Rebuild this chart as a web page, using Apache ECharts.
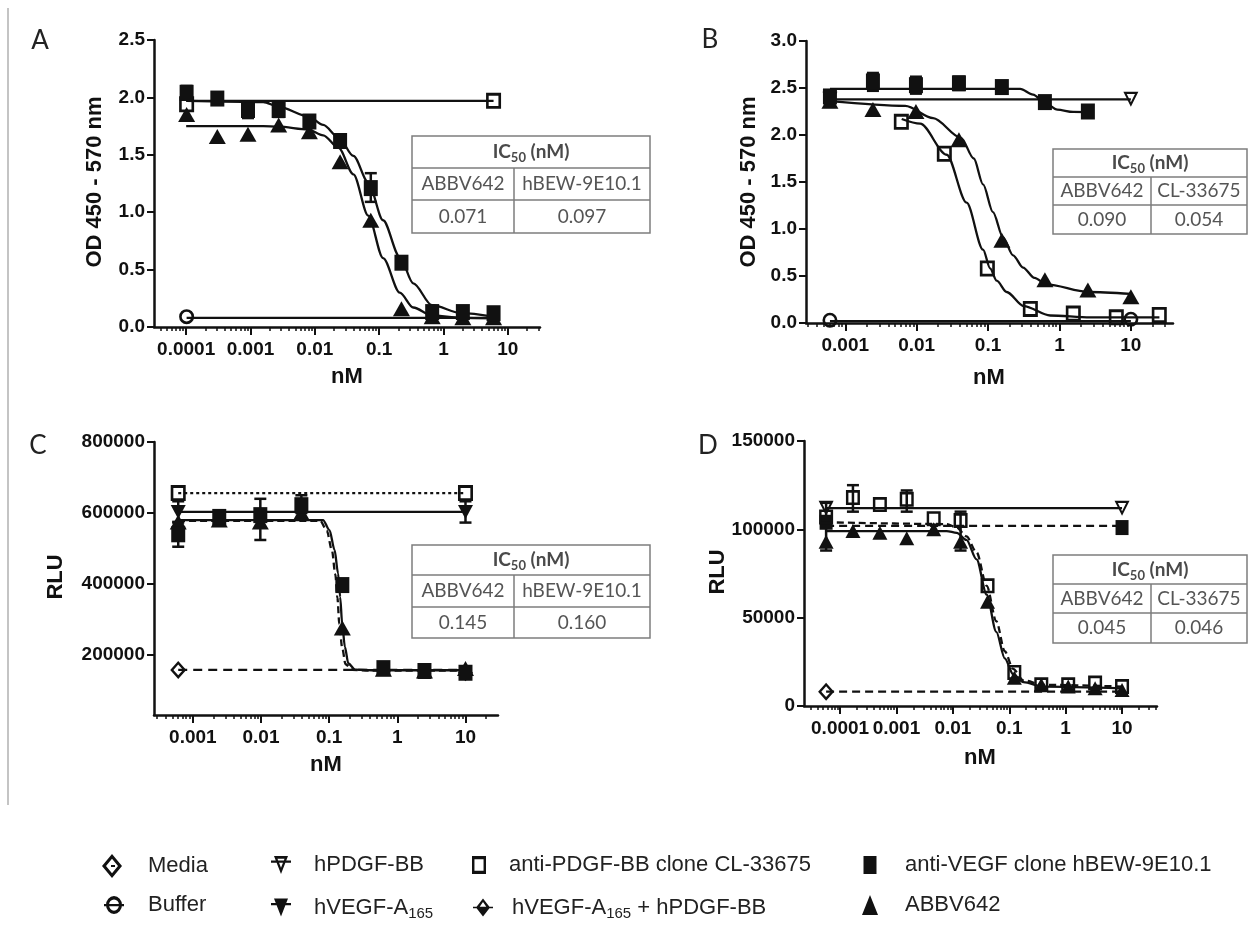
<!DOCTYPE html>
<html><head><meta charset="utf-8">
<script src="https://cdn.jsdelivr.net/npm/echarts@6/dist/echarts.min.js"></script>
<style>html,body{margin:0;padding:0;background:#fff}#c{width:1249px;height:939px}</style>
</head><body><div id="c"></div>
<script>
// ================= DATA (concentrations in nM) =================
// Panel A : OD 450-570 nm, 3-fold dilutions
const concA      = [0.0001016, 0.000305, 0.000914, 0.00274, 0.00823, 0.0247, 0.0741, 0.222, 0.667, 2, 6];
const A_hBEW     = [2.04, 1.99, 1.89, 1.89, 1.79, 1.62, 1.21, 0.56, 0.13, 0.13, 0.12];
const A_ABBV     = [1.85, 1.66, 1.68, 1.76, 1.70, 1.44, 0.93, 0.16, 0.09, 0.08, 0.08];
const A_CL_x     = [0.0001016, 6];
const A_CL       = [1.94, 1.97];
const A_buf_x    = [0.0001016];
const A_buf      = [0.09];
const A_fit_x    = [0.0001, 0.00158, 0.00269, 0.00794, 0.0135, 0.0234, 0.0398, 0.0676, 0.115, 0.209, 0.339, 0.661, 1.91, 5.89];
const A_fit_hBEW = [1.97, 1.96, 1.92, 1.835, 1.76, 1.65, 1.49, 1.26, 0.93, 0.61, 0.38, 0.19, 0.12, 0.09];
const A_fit_ABBV = [1.75, 1.75, 1.745, 1.72, 1.67, 1.56, 1.33, 0.97, 0.60, 0.30, 0.17, 0.10, 0.08, 0.075];
const A_line_x   = [0.0001016, 6];
const A_line_CL  = [1.97, 1.97];
const A_line_buf = [0.08, 0.08];
const A_err      = [[0.0741, 1.09, 1.34], [0.00274, 1.83, 1.95], [0.000914, 1.82, 1.96], [0.0001016, 1.98, 2.10]];

// Panel B : OD 450-570 nm, 4-fold dilutions
const concB      = [0.00061, 0.00244, 0.00977, 0.0391, 0.156, 0.625, 2.5, 10];
const concB2     = [0.0061, 0.0244, 0.0977, 0.391, 1.5625, 6.25, 25];
const B_hBEW     = [2.41, 2.57, 2.53, 2.55, 2.51, 2.35, 2.25];
const B_ABBV     = [2.36, 2.27, 2.25, 1.95, 0.88, 0.46, 0.35, 0.28];
const B_CL       = [2.14, 1.80, 0.58, 0.15, 0.10, 0.06, 0.085];
const B_end_x    = [0.00061, 10];
const B_PDGF     = [2.38, 2.38];
const B_buf      = [0.03, 0.04];
const B_fit_hBEW_x = [0.00061, 0.282, 0.427, 0.631, 0.933, 1.55, 2.95];
const B_fit_hBEW   = [2.49, 2.49, 2.43, 2.34, 2.27, 2.245, 2.24];
const B_fit_ABBV_x = [0.00061, 0.00692, 0.0170, 0.0417, 0.0631, 0.0851, 0.117, 0.162, 0.224, 0.309, 0.447, 0.661, 2.51, 10];
const B_fit_ABBV   = [2.36, 2.31, 2.18, 1.97, 1.75, 1.475, 1.18, 0.91, 0.72, 0.59, 0.48, 0.41, 0.33, 0.31];
const B_fit_CL_x   = [0.00617, 0.0112, 0.0263, 0.0501, 0.0851, 0.107, 0.132, 0.182, 0.316, 0.741, 2.69, 25.1];
const B_fit_CL     = [2.17, 2.12, 1.79, 1.28, 0.78, 0.58, 0.45, 0.33, 0.18, 0.08, 0.06, 0.06];
const B_line_PDGF  = [2.38, 2.38];
const B_line_buf   = [0.02, 0.02];
const B_err        = [[0.00244, 2.47, 2.66], [0.00977, 2.44, 2.62], [0.0391, 2.48, 2.62], [0.00061, 2.30, 2.45]];

// Panel C : RLU, 4-fold dilutions
const concC      = [0.00061, 0.00244, 0.00977, 0.0391, 0.156, 0.625, 2.5, 10];
const C_hBEW     = [540000, 589000, 594000, 622000, 397000, 163000, 155000, 150000];
const C_ABBV     = [575000, 580000, 575000, 600000, 276000, 160000, 155000, 162000];
const C_end_x    = [0.00061, 10];
const C_CL       = [656000, 656000];
const C_VEGF     = [603000, 603000];
const C_media_x  = [0.00061];
const C_media    = [158000];
const C_both_x   = [10];
const C_both     = [150000];
const C_fit_hBEW_x = [0.00061, 0.0813, 0.101, 0.120, 0.135, 0.145, 0.155, 0.170, 0.191, 0.240, 0.417, 10];
const C_fit_hBEW   = [580000, 580000, 552000, 496000, 430000, 364000, 289000, 223000, 176000, 159000, 157000, 157000];
const C_fit_ABBV_x = [0.00061, 0.0741, 0.0923, 0.110, 0.123, 0.132, 0.141, 0.155, 0.174, 0.219, 0.380, 10];
const C_fit_ABBV   = [578000, 578000, 550000, 494000, 428000, 362000, 287000, 221000, 174000, 158000, 156000, 156000];
const C_line_media = [158000, 158000];
const C_err        = [[0.00061, 573000, 633000], [10, 573000, 633000], [0.00061, 505000, 575000], [0.00977, 524000, 640000], [0.0391, 600000, 650000]];

// Panel D : RLU, 3-fold dilutions
const concD      = [0.0000565, 0.000169, 0.000508, 0.00152, 0.00457, 0.0137, 0.0412, 0.123, 0.370, 1.11, 3.33, 10];
const D_CL       = [107000, 118000, 114000, 117000, 106000, 105000, 68000, 19000, 12000, 12000, 13000, 11000];
const D_ABBV     = [93000, 99000, 98000, 95000, 100000, 93000, 59000, 16000, 12000, 11000, 10000, 9000];
const D_end_x    = [0.0000565, 10];
const D_PDGF     = [112000, 112000];
const D_hBEW     = [104000, 101000];
const D_media_x  = [0.0000565];
const D_media    = [8100];
const D_fit_x    = [0.0000562, 0.00776, 0.0117, 0.0174, 0.0263, 0.0398, 0.0589, 0.0832, 0.117, 0.178, 0.398, 10];
const D_fit_ABBV = [99000, 99000, 98000, 94000, 83000, 63000, 42000, 27000, 18000, 13500, 11000, 10000];
const D_fit_CL   = [104000, 103000, 101000, 96000, 87000, 68000, 48000, 31000, 21000, 14500, 12000, 11000];
const D_line_hBEW  = [102000, 102000];
const D_line_media = [8100, 8100];
const D_err      = [[0.0000565, 88000, 115000], [0.000169, 110000, 125000], [0.00152, 110000, 122000], [0.0137, 88000, 110000]];

// Tick labels
const xTickA = ['0.0001', '0.001', '0.01', '0.1', '1', '10'];
const xTickB = ['0.001', '0.01', '0.1', '1', '10'];
const xTickC = ['0.001', '0.01', '0.1', '1', '10'];
const xTickD = ['0.0001', '0.001', '0.01', '0.1', '1', '10'];
const yTickA = ['0.0', '0.5', '1.0', '1.5', '2.0', '2.5'];
const yTickB = ['0.0', '0.5', '1.0', '1.5', '2.0', '2.5', '3.0'];
const yTickC = ['200000', '400000', '600000', '800000'];
const yTickD = ['0', '50000', '100000', '150000'];

// Table contents
const tblHead = ['IC', '50', ' (nM)'];
const tblA = [['ABBV642', 'hBEW-9E10.1'], ['0.071', '0.097']];
const tblB = [['ABBV642', 'CL-33675'], ['0.090', '0.054']];
const tblC = [['ABBV642', 'hBEW-9E10.1'], ['0.145', '0.160']];
const tblD = [['ABBV642', 'CL-33675'], ['0.045', '0.046']];

const N = {media:'Media', buffer:'Buffer', pdgf:'hPDGF-BB', vegf:'hVEGF-A165',
  cl:'anti-PDGF-BB clone CL-33675', both:'hVEGF-A165 + hPDGF-BB', hbew:'anti-VEGF clone hBEW-9E10.1', abbv:'ABBV642'};

// ================= STYLE / LAYOUT =================
const BLK = '#111';
const FB = "'Liberation Sans',Arial,sans-serif";
const FT = "Lato,'Open Sans',sans-serif";
const P = {
  openSq:  'path://M0,0H20V20H0Z M3.5,3.5V16.5H16.5V3.5Z',
  fillSq:  'path://M0,0H20V20H0Z',
  openDia: 'path://M10,0L20,10L10,20L0,10Z M10,4L4,10L10,16L16,10Z',
  openCirc:'path://M10,0A10,10,0,1,1,10,20A10,10,0,1,1,10,0Z M10,3.5A6.5,6.5,0,1,0,10,16.5A6.5,6.5,0,1,0,10,3.5Z',
  invOpen: 'path://M0,0H20L10,20Z M4.5,3L10,14L15.5,3Z',
  invFill: 'path://M0,0H20L10,20Z',
  halfDia: 'path://M10,0L20,10L10,20L0,10Z M10,4L4,10L16,10Z',
  tri:     'path://M10,0L20,20H0Z',
  L_media: 'path://M10,0L20,10L10,20L0,10Z M10,4L4,10L10,16L16,10Z M9,9.2H13V10.8H9Z',
  L_buf:   'path://M10,2A8,8,0,1,1,10,18A8,8,0,1,1,10,2Z M10,5A5,5,0,1,0,10,15A5,5,0,1,0,10,5Z M0,9H20V11H0Z',
  L_pdgf:  'path://M3,0H17L10,20Z M6.5,3L10,13L13.5,3Z M0,5H20V7.5H0Z',
  L_vegf:  'path://M3,0H17L10,20Z M0,5H20V7.5H0Z',
  L_both:  'path://M10,0L17,10L10,20L3,10Z M10,4L6.2,10L13.8,10Z M0,9.2H20V10.8H0Z'
};

const grids = [
  {left:154, top:40,  width:386, height:287},
  {left:806, top:41,  width:367, height:282},
  {left:154, top:442, width:344, height:273},
  {left:804, top:441, width:353, height:265}
];
const xRange = [[-4.5, 1.5], [-3.55, 1.59], [-3.57, 1.477], [-4.64, 1.62]];
const yRange = [[0, 2.5], [0, 3], [31000, 800000], [0, 150000]];
const xTicks = [xTickA, xTickB, xTickC, xTickD];
const yTicks = [yTickA, yTickB, yTickC, yTickD];

const LG = v => Math.log10(v);
const pts = (xs, ys) => xs.map((x, i) => [LG(x), ys[i]]);
const labelFont = {fontFamily:FB, fontWeight:'bold', fontSize:19, color:BLK};

const xAxes = [], yAxes = [];
grids.forEach((g, i) => {
  const [mn, mx] = xRange[i];
  const labs = xTicks[i];
  const vals = labs.map(s => Math.round(Math.log10(parseFloat(s))));
  const minor = [];
  for (let d = Math.floor(mn); d <= Math.ceil(mx); d++)
    for (let k = 2; k <= 9; k++) { const v = d + Math.log10(k); if (v > mn && v <= mx + 1e-9) minor.push(v); }
  xAxes.push({type:'value', gridIndex:i, position:'bottom', min:mn, max:mx,
    axisLine:{show:true, onZero:false, lineStyle:{color:BLK, width:2.5}},
    axisTick:{show:true, customValues:vals, length:8, lineStyle:{color:BLK, width:2}},
    axisLabel:{show:true, customValues:vals, showMinLabel:true, showMaxLabel:true, hideOverlap:false,
      formatter: v => { const k = vals.indexOf(Math.round(v)); return k < 0 ? '' : labs[k]; },
      margin:13, ...labelFont},
    splitLine:{show:false}});
  xAxes.push({type:'value', gridIndex:i, position:'bottom', min:mn, max:mx,
    axisLine:{show:false, onZero:false},
    axisTick:{show:true, customValues:minor, length:4, lineStyle:{color:BLK, width:1.5}},
    axisLabel:{show:false}, splitLine:{show:false}});
  const ylabs = yTicks[i];
  const yvals = ylabs.map(s => parseFloat(s));
  yAxes.push({type:'value', gridIndex:i, min:yRange[i][0], max:yRange[i][1],
    axisLine:{show:true, onZero:false, lineStyle:{color:BLK, width:2.5}},
    axisTick:{show:true, customValues:yvals, length:7, lineStyle:{color:BLK, width:2}},
    axisLabel:{show:true, customValues:yvals, showMinLabel:true, showMaxLabel:true, hideOverlap:false,
      formatter: v => { const k = yvals.findIndex(t => Math.abs(t - v) < 1e-6); return k < 0 ? '' : ylabs[k]; },
      margin:9, ...labelFont},
    splitLine:{show:false}});
});

const series = [];
function marks(i, name, xs, ys, symbol, size) {
  series.push({type:'scatter', name, xAxisIndex:2*i, yAxisIndex:i, data:pts(xs, ys),
    symbol, symbolSize:size, itemStyle:{color:BLK, opacity:1}, z:5, silent:true});
}
function fit(i, name, xs, ys, ltype, smooth) {
  series.push({type:'line', name, xAxisIndex:2*i, yAxisIndex:i, data:pts(xs, ys), symbol:'none',
    smooth: smooth ? 0.3 : false, smoothMonotone:'x',
    lineStyle:{color:BLK, width:2.3, type:ltype || 'solid'}, itemStyle:{color:BLK}, z:3, silent:true});
}
function errs(i, arr) {
  series.push({type:'custom', xAxisIndex:2*i, yAxisIndex:i, z:4, silent:true,
    data: arr.map(e => [LG(e[0]), e[1], e[2]]), encode:{x:0, y:[1, 2]},
    renderItem: (params, api) => {
      const x = api.value(0), p1 = api.coord([x, api.value(1)]), p2 = api.coord([x, api.value(2)]);
      const w = 6, st = {stroke:BLK, lineWidth:2.5};
      return {type:'group', children:[
        {type:'line', shape:{x1:p1[0], y1:p1[1], x2:p2[0], y2:p2[1]}, style:st},
        {type:'line', shape:{x1:p1[0]-w, y1:p1[1], x2:p1[0]+w, y2:p1[1]}, style:st},
        {type:'line', shape:{x1:p2[0]-w, y1:p2[1], x2:p2[0]+w, y2:p2[1]}, style:st}]};
    }});
}

// Panel A
fit(0, N.hbew, A_fit_x, A_fit_hBEW, 'solid', true);
fit(0, N.abbv, A_fit_x, A_fit_ABBV, 'solid', true);
fit(0, N.cl, A_line_x, A_line_CL);
fit(0, N.buffer, A_line_x, A_line_buf);
errs(0, A_err);
marks(0, N.buffer, A_buf_x, A_buf, P.openCirc, [15, 15]);
marks(0, N.cl, A_CL_x, A_CL, P.openSq, [15, 16]);
marks(0, N.abbv, concA, A_ABBV, P.tri, [17, 15]);
marks(0, N.hbew, concA, A_hBEW, P.fillSq, [14, 16]);
// Panel B
fit(1, N.hbew, B_fit_hBEW_x, B_fit_hBEW, 'solid', true);
fit(1, N.abbv, B_fit_ABBV_x, B_fit_ABBV, 'solid', true);
fit(1, N.cl, B_fit_CL_x, B_fit_CL, 'solid', true);
fit(1, N.pdgf, B_end_x, B_line_PDGF);
fit(1, N.buffer, B_end_x, B_line_buf);
errs(1, B_err);
marks(1, N.buffer, B_end_x, B_buf, P.openCirc, [15, 15]);
marks(1, N.pdgf, B_end_x, B_PDGF, P.invOpen, [15, 15]);
marks(1, N.cl, concB2, B_CL, P.openSq, [15, 16]);
marks(1, N.abbv, concB, B_ABBV, P.tri, [17, 15]);
marks(1, N.hbew, concB.slice(0, B_hBEW.length), B_hBEW, P.fillSq, [14, 16]);
// Panel C
fit(2, N.hbew, C_fit_hBEW_x, C_fit_hBEW, 'solid', true);
fit(2, N.abbv, C_fit_ABBV_x, C_fit_ABBV, [7, 4], true);
fit(2, N.cl, C_end_x, C_CL, [3, 3]);
fit(2, N.vegf, C_end_x, C_VEGF);
fit(2, N.media, C_end_x, C_line_media, [9, 6]);
errs(2, C_err);
marks(2, N.media, C_media_x, C_media, P.openDia, [16, 18]);
marks(2, N.both, C_both_x, C_both, P.halfDia, [15, 17]);
marks(2, N.cl, C_end_x, C_CL, P.openSq, [15, 16]);
marks(2, N.vegf, C_end_x, C_VEGF, P.invFill, [15, 14]);
marks(2, N.abbv, concC, C_ABBV, P.tri, [17, 15]);
marks(2, N.hbew, concC, C_hBEW, P.fillSq, [14, 16]);
// Panel D
fit(3, N.abbv, D_fit_x, D_fit_ABBV, 'solid', true);
fit(3, N.cl, D_fit_x, D_fit_CL, [7, 4], true);
fit(3, N.pdgf, D_end_x, D_PDGF);
fit(3, N.hbew, D_end_x, D_line_hBEW, [8, 5]);
fit(3, N.media, D_end_x, D_line_media, [8, 5]);
errs(3, D_err);
marks(3, N.media, D_media_x, D_media, P.openDia, [16, 18]);
marks(3, N.pdgf, D_end_x, D_PDGF, P.invOpen, [15, 15]);
marks(3, N.hbew, D_end_x, D_hBEW, P.fillSq, [13, 15]);
marks(3, N.abbv, concD, D_ABBV, P.tri, [15, 14]);
marks(3, N.cl, concD, D_CL, P.openSq, [14, 15]);

// ---------- legend ----------
const rowY = [867, 907];
const legItems = [
  {name:N.media,  icon:P.L_media, cx:112, tx:148, row:0, w:20, h:24},
  {name:N.buffer, icon:P.L_buf,   cx:114, tx:148, row:1, w:20, h:18},
  {name:N.pdgf,   icon:P.L_pdgf,  cx:281, tx:314, row:0, w:20, h:18},
  {name:N.vegf,   icon:P.L_vegf,  cx:281, tx:314, row:1, w:20, h:18},
  {name:N.cl,     icon:P.openSq,  cx:479, tx:509, row:0, w:14, h:18},
  {name:N.both,   icon:P.L_both,  cx:483, tx:512, row:1, w:20, h:18},
  {name:N.hbew,   icon:P.fillSq,  cx:870, tx:905, row:0, w:13, h:18},
  {name:N.abbv,   icon:P.tri,     cx:870, tx:905, row:1, w:16, h:20}
];
const richName = n => n.split('165').map(s => '{t|' + s + '}').join('{s|165}');
const legends = legItems.map(it => {
  const left = it.cx - it.w / 2;
  return {show:true, selectedMode:false, orient:'horizontal', padding:0,
    left, top: rowY[it.row] - Math.max(it.h, 26) / 2,
    itemWidth:it.w, itemHeight:it.h, symbolKeepAspect:false,
    data:[{name:it.name, icon:it.icon}],
    formatter: n => '{g| }' + richName(n),
    textStyle:{fontSize:22, fontFamily:FB, color:'#222',
      rich:{g:{width: it.tx - left - it.w - 5},
            t:{fontSize:22, fontFamily:FB, color:'#222', lineHeight:26},
            s:{fontSize:15, fontFamily:FB, color:'#222', lineHeight:14, padding:[12, 0, 0, 0]}}}};
});

// ---------- graphic: panel letters, axis titles, tables ----------
const gfx = [];
gfx.push({type:'line', shape:{x1:8, y1:8, x2:8, y2:805}, style:{stroke:'#c4c4c4', lineWidth:2}, silent:true});
[['A', 40, 41], ['B', 710, 40], ['C', 38, 446], ['D', 708, 446]].forEach(([t, x, y]) =>
  gfx.push({type:'text', x, y, style:{text:t, fontSize:26, fontFamily:FT, fill:'#222', align:'center', verticalAlign:'middle'}, silent:true}));
[['OD 450 - 570 nm', 95, 182], ['OD 450 - 570 nm', 749, 182], ['RLU', 56, 577], ['RLU', 718, 572]].forEach(([t, x, y]) =>
  gfx.push({type:'text', x, y, rotation:Math.PI / 2, style:{text:t, fontSize:22, fontWeight:'bold', fontFamily:FB, fill:BLK, align:'center', verticalAlign:'middle'}, silent:true}));
[[347, 377], [989, 378], [326, 765], [980, 758]].forEach(([x, y]) =>
  gfx.push({type:'text', x, y, style:{text:'nM', fontSize:22, fontWeight:'bold', fontFamily:FB, fill:BLK, align:'center', verticalAlign:'middle'}, silent:true}));

function table(x0, x1, xd, ys, cells) {
  const st = {stroke:'#7d7d7d', lineWidth:1.5};
  gfx.push({type:'rect', shape:{x:x0, y:ys[0], width:x1 - x0, height:ys[3] - ys[0]}, style:{fill:'#fff', ...st}, silent:true});
  gfx.push({type:'line', shape:{x1:x0, y1:ys[1], x2:x1, y2:ys[1]}, style:st, silent:true});
  gfx.push({type:'line', shape:{x1:x0, y1:ys[2], x2:x1, y2:ys[2]}, style:st, silent:true});
  gfx.push({type:'line', shape:{x1:xd, y1:ys[1], x2:xd, y2:ys[3]}, style:st, silent:true});
  gfx.push({type:'text', x:(x0 + x1) / 2, y:(ys[0] + ys[1]) / 2, silent:true,
    style:{text:'{b|' + tblHead[0] + '}{sb|' + tblHead[1] + '}{b|' + tblHead[2] + '}', align:'center', verticalAlign:'middle',
      rich:{b:{fontSize:19, fontWeight:'bold', fontFamily:FT, fill:'#4a4a4a', lineHeight:24},
            sb:{fontSize:13, fontWeight:'bold', fontFamily:FT, fill:'#4a4a4a', lineHeight:12, padding:[12, 0, 0, 0]}}}});
  cells.forEach((row, r) => {
    const yc = (ys[r + 1] + ys[r + 2]) / 2;
    [(x0 + xd) / 2, (xd + x1) / 2].forEach((xc, c) =>
      gfx.push({type:'text', x:xc, y:yc, silent:true, style:{text:row[c], fontSize:19, fontFamily:FT, fill:'#555', align:'center', verticalAlign:'middle'}}));
  });
}
table(412, 650, 514, [136, 168, 200, 233], tblA);
table(1053, 1247, 1151, [149, 177, 205, 234], tblB);
table(412, 650, 514, [545, 575, 607, 638], tblC);
table(1053, 1247, 1151, [555, 584, 613, 643], tblD);

const chart = echarts.init(document.getElementById('c'), null, {renderer:'canvas'});
chart.setOption({
  animation:false, backgroundColor:'#ffffff',
  textStyle:{fontFamily:FB},
  grid:grids, xAxis:xAxes, yAxis:yAxes, series, legend:legends, graphic:gfx,
  tooltip:{show:false}
});
</script></body></html>
